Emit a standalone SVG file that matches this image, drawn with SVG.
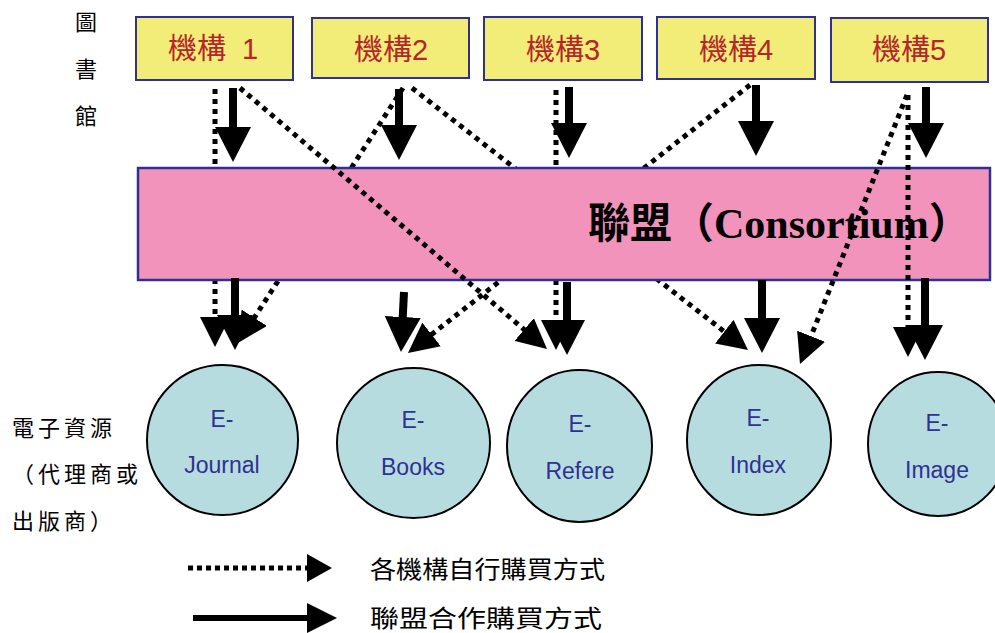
<svg xmlns="http://www.w3.org/2000/svg" width="995" height="633" viewBox="0 0 995 633">
<style>
.box{fill:#f2ec78;stroke:#2e3192;stroke-width:2}
.boxt{font-family:"Liberation Sans","Noto Sans CJK TC",sans-serif;font-size:29px;fill:#b5252b;text-anchor:middle}
.circ{fill:#b7dcdf;stroke:#000;stroke-width:2}
.ct{font-family:"Liberation Sans","Noto Sans CJK TC",sans-serif;font-size:23px;fill:#2e3192;text-anchor:middle}
.side{font-family:"Noto Sans CJK TC",sans-serif;font-size:22px;fill:#000}
.leg{font-family:"Noto Sans CJK TC",sans-serif;font-size:24px;fill:#000}
.dot{fill:none;stroke:#000;stroke-width:5;stroke-dasharray:5 5;marker-end:url(#hd)}
.sol{fill:none;stroke:#000;stroke-width:8;marker-end:url(#hs)}
</style>
<defs>
<marker id="hd" viewBox="0 0 30 30" markerWidth="30" markerHeight="30" refX="1" refY="15" orient="auto" markerUnits="userSpaceOnUse"><path d="M0,0L30,15L0,30Z" fill="#000"/></marker>
<marker id="hs" viewBox="0 0 35 36" markerWidth="35" markerHeight="36" refX="1" refY="18" orient="auto" markerUnits="userSpaceOnUse"><path d="M0,0L35,18L0,36Z" fill="#000"/></marker>
</defs>

<g id="labels">
<text class="side" x="86" y="30" text-anchor="middle">圖</text>
<text class="side" x="86" y="77" text-anchor="middle">書</text>
<text class="side" x="86" y="124" text-anchor="middle">館</text>
<text class="side" x="12" y="436" letter-spacing="4">電子資源</text>
<text class="side" x="12" y="482" letter-spacing="4">（代理商或</text>
<text class="side" x="12" y="529" letter-spacing="4">出版商）</text>
</g>

<g id="connectors-behind">
<line class="dot" x1="215" y1="89" x2="215" y2="318"/>
<line class="dot" x1="403" y1="88" x2="253.7" y2="318.6"/>
<line class="dot" x1="412" y1="88" x2="725.1" y2="332.2"/>
<line class="dot" x1="556" y1="90" x2="556" y2="321"/>
<line class="dot" x1="750" y1="85" x2="430.8" y2="335.1"/>
</g>

<g id="consortium">
<rect x="138" y="168" width="852" height="112" fill="#f293bc" stroke="#2e3192" stroke-width="2.5"/>
<text x="588" y="238" font-family="'Liberation Serif','Noto Sans CJK TC',serif" font-size="42" font-weight="bold" fill="#000">聯盟（Consortium）</text>
</g>

<g id="connectors">
<line class="dot" x1="240" y1="88" x2="524.9" y2="330.2"/>
<line class="dot" x1="907" y1="95" x2="810.7" y2="337.1"/>
<line class="dot" x1="908" y1="95" x2="908" y2="328"/>
<line class="sol" x1="233" y1="88" x2="233" y2="128"/>
<line class="sol" x1="399" y1="89" x2="399" y2="126"/>
<line class="sol" x1="569" y1="87" x2="569" y2="124"/>
<line class="sol" x1="756" y1="85" x2="756" y2="122"/>
<line class="sol" x1="926" y1="87" x2="926" y2="124"/>
<line class="sol" x1="235" y1="278" x2="235" y2="316"/>
<line class="sol" x1="404" y1="292" x2="402.7" y2="318"/>
<line class="sol" x1="567" y1="282" x2="567" y2="321"/>
<line class="sol" x1="762" y1="280" x2="762" y2="319"/>
<line class="sol" x1="925" y1="278" x2="925" y2="326"/>
</g>

<g id="org1"><rect class="box" x="136" y="17" width="157" height="63"/><text class="boxt" x="168" y="59" style="text-anchor:start">機構<tspan dx="16">1</tspan></text></g>
<g id="org2"><rect class="box" x="312" y="18" width="157" height="60"/><text class="boxt" x="391" y="60">機構2</text></g>
<g id="org3"><rect class="box" x="484" y="17" width="158" height="63"/><text class="boxt" x="563" y="60">機構3</text></g>
<g id="org4"><rect class="box" x="657" y="17" width="158" height="62"/><text class="boxt" x="736" y="60">機構4</text></g>
<g id="org5"><rect class="box" x="831" y="18" width="157" height="64"/><text class="boxt" x="909" y="60">機構5</text></g>

<g id="ejournal"><ellipse class="circ" cx="222.5" cy="440" rx="75.5" ry="75"/><text class="ct" x="222" y="427">E-</text><text class="ct" x="222" y="473">Journal</text></g>
<g id="ebooks"><ellipse class="circ" cx="413.5" cy="443" rx="76.5" ry="75"/><text class="ct" x="413" y="428">E-</text><text class="ct" x="413" y="475">Books</text></g>
<g id="erefere"><ellipse class="circ" cx="579.5" cy="446" rx="72.5" ry="76"/><text class="ct" x="580" y="432">E-</text><text class="ct" x="580" y="479">Refere</text></g>
<g id="eindex"><ellipse class="circ" cx="759" cy="440" rx="72" ry="75"/><text class="ct" x="758" y="426">E-</text><text class="ct" x="758" y="473">Index</text></g>
<g id="eimage"><ellipse class="circ" cx="938" cy="444" rx="70" ry="72"/><text class="ct" x="937" y="431">E-</text><text class="ct" x="937" y="478">Image</text></g>

<g id="legend">
<line x1="188" y1="568" x2="308" y2="568" stroke="#000" stroke-width="5" stroke-dasharray="5 4"/>
<polygon points="307,554 332,568 307,582" fill="#000"/>
<text class="leg" x="370" y="578" textLength="235" lengthAdjust="spacingAndGlyphs">各機構自行購買方式</text>
<line x1="193" y1="618" x2="308" y2="618" stroke="#000" stroke-width="6"/>
<polygon points="307,603 337,618 307,633" fill="#000"/>
<text class="leg" x="370" y="627" textLength="232" lengthAdjust="spacingAndGlyphs">聯盟合作購買方式</text>
</g>
</svg>
